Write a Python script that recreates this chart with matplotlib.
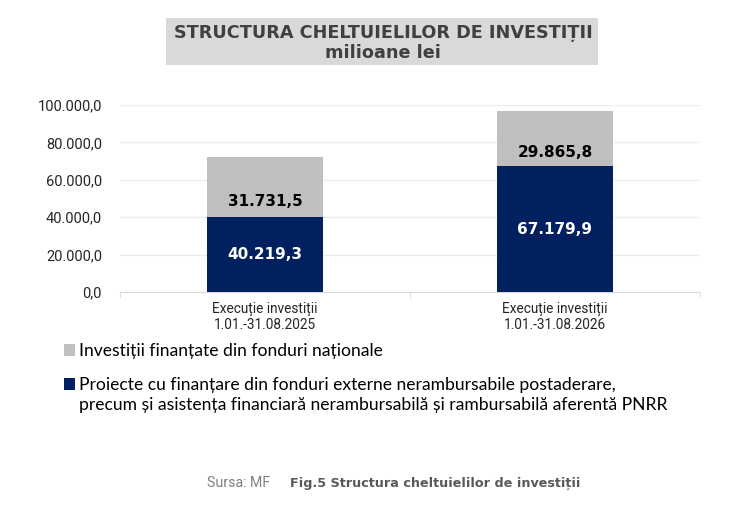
import matplotlib
matplotlib.use("Agg")
import matplotlib.pyplot as plt
from matplotlib.patches import Rectangle, Patch
import numpy as np

# data (milioane lei)
categories = ["Execuție investiții\n1.01.-31.08.2025", "Execuție investiții\n1.01.-31.08.2026"]
externe = [40219.3, 67179.9]
nationale = [31731.5, 29865.8]
nume_nationale = "Investiții finanțate din fonduri naționale"
nume_externe = ["Proiecte cu finanțare din fonduri externe nerambursabile postaderare,",
                "precum și asistența financiară nerambursabilă și rambursabilă aferentă PNRR"]
y_ticks = [0, 20000, 40000, 60000, 80000, 100000]

NAVY = "#002060"
GREY = "#bfbfbf"
TICKFONT = ["Roboto", "DejaVu Sans"]
LEGFONT = ["Lato", "DejaVu Sans"]


def fmt_ro(v):
    # 40219.3 -> 40.219,3
    s = f"{v:,.1f}"
    return s.replace(",", "X").replace(".", ",").replace("X", ".")


fig = plt.figure(figsize=(7.5, 5.11), dpi=100)
fig.patch.set_facecolor("white")

# title box
fig.patches.append(Rectangle((166 / 750, 1 - 65 / 511), (598 - 166) / 750, (65 - 18) / 511,
                             transform=fig.transFigure, facecolor="#d9d9d9",
                             edgecolor="none", zorder=0))
fig.text(0.5107, 1 - 33 / 511, "STRUCTURA CHELTUIELILOR DE INVESTIȚII", ha="center", va="center",
         fontsize=12.7, fontweight="bold", color="#404040")
fig.text(0.5107, 1 - 53 / 511, "milioane lei", ha="center", va="center",
         fontsize=12.7, fontweight="bold", color="#404040")

ax = fig.add_axes([120 / 750, 219 / 511, 580 / 750, 187 / 511])
x = np.arange(len(categories))
b1 = ax.bar(x, externe, width=0.4, color=NAVY, zorder=3)
b2 = ax.bar(x, nationale, width=0.4, bottom=externe, color=GREY, zorder=3)

for i in range(len(x)):
    ax.annotate(fmt_ro(externe[i]), (x[i], externe[i] / 2), ha="center", va="center",
                fontsize=11, fontweight="bold", color="white", zorder=4)
    ax.annotate(fmt_ro(nationale[i]), (x[i], externe[i] + nationale[i] / 2),
                xytext=(0, -10), textcoords="offset points", ha="center", va="center",
                fontsize=11, fontweight="bold", color="black", zorder=4)

ax.set_xlim(-0.5, 1.5)
ax.set_ylim(0, 100000)
ax.set_yticks(y_ticks)
ax.set_yticklabels([fmt_ro(v) for v in y_ticks], family=TICKFONT, fontsize=10.5, color="#262626")
ax.set_xticks(x)
ax.set_xticklabels(categories, family=TICKFONT, fontsize=9.8, color="#262626", linespacing=1.2)
ax.set_xticks([-0.5, 0.5, 1.5], minor=True)
ax.tick_params(axis="x", which="major", length=0, pad=7)
ax.tick_params(axis="x", which="minor", length=4, color="#d9d9d9")
ax.tick_params(axis="y", length=0, pad=13)
ax.grid(axis="y", color="#ececec", linewidth=1, zorder=0)
for side in ["top", "right", "left"]:
    ax.spines[side].set_visible(False)
ax.spines["bottom"].set_color("#d9d9d9")

leg_kw = dict(loc="upper left", frameon=False, prop={"family": LEGFONT, "size": 12.6},
              handlelength=0.62, handleheight=0.62, handletextpad=0.25, borderaxespad=0,
              borderpad=0)
fig.legend([Patch(facecolor=GREY)], [nume_nationale],
           bbox_to_anchor=(64 / 750, 1 - 343 / 511), **leg_kw)
fig.legend([Patch(facecolor=NAVY), Patch(facecolor="none", edgecolor="none")], nume_externe,
           bbox_to_anchor=(64 / 750, 1 - 377 / 511), labelspacing=0.2, **leg_kw)

fig.text(207 / 750, 1 - 483 / 511, "Sursa: MF", ha="left", va="center", family=TICKFONT,
         fontsize=10.2, color="#808080")
fig.text(290 / 750, 1 - 483 / 511, "Fig.5 Structura cheltuielilor de investiții", ha="left",
         va="center", fontsize=9.2, fontweight="bold", color="#595959")

fig.savefig("out.png", dpi=100)
